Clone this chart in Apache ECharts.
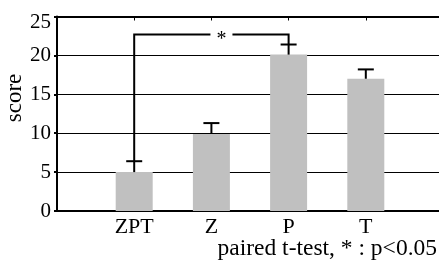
<!DOCTYPE html>
<html><head><meta charset="utf-8">
<script src="https://cdn.jsdelivr.net/npm/echarts@6/dist/echarts.min.js"></script>
<style>html,body{margin:0;padding:0;background:#fff;}#c{width:439px;height:266px;}</style>
</head><body><div id="c"></div>
<script>
const categories = ['ZPT', 'Z', 'P', 'T'];
const positions = [1, 2, 3, 4];
const means = [5.0, 9.9, 20.1, 17.0];
const errUpper = [6.4, 11.3, 21.4, 18.2];
const yTicks = [0, 5, 10, 15, 20, 25];
const bracketFrom = 1, bracketTo = 3, bracketY = 22.7, starX = 2.13;
const note = 'paired t-test, * : p<0.05';
const yName = 'score';

const FONT = '"Liberation Serif", "Times New Roman", serif';
const chart = echarts.init(document.getElementById('c'), null, {renderer: 'canvas'});

const barData = positions.map((p, i) => [p, means[i]]);
const errData = positions.map((p, i) => [p, means[i], errUpper[i]]);
const xMax = 4.948;
const yMax = yTicks[yTicks.length - 1];

chart.setOption({
  animation: false,
  grid: {left: 57, right: 0, top: 15, bottom: 55},
  xAxis: [{
    type: 'value', min: 0, max: xMax, interval: 1, position: 'bottom',
    axisLine: {show: true, onZero: false, lineStyle: {color: '#000', width: 2}},
    axisTick: {show: true, inside: true, length: 4, lineStyle: {color: '#000', width: 1}},
    splitLine: {show: false},
    axisLabel: {
      color: '#000', fontFamily: FONT, fontSize: 22, margin: 5, showMaxLabel: false,
      formatter: v => { const i = positions.indexOf(v); return i >= 0 ? categories[i] : ''; }
    }
  }, {
    type: 'value', min: 0, max: xMax, interval: 1, position: 'top',
    axisLine: {show: true, onZero: false, lineStyle: {color: '#000', width: 2}},
    axisTick: {show: true, inside: true, length: 4, lineStyle: {color: '#000', width: 1}},
    splitLine: {show: false}, axisLabel: {show: false}
  }],
  yAxis: [{
    type: 'value', min: yTicks[0], max: yMax, interval: 5,
    axisLine: {show: true, onZero: false, lineStyle: {color: '#000', width: 2}},
    axisTick: {show: true, inside: true, length: 4, lineStyle: {color: '#000', width: 1}},
    splitLine: {show: true, lineStyle: {color: '#000', width: 1}},
    axisLabel: {
      color: '#000', fontFamily: FONT, fontSize: 21, margin: 6, lineHeight: 12,
      formatter: v => v === yMax ? '\n' + v : String(v)
    }
  }, {
    type: 'value', position: 'right', min: yTicks[0], max: yMax, interval: 5,
    axisLine: {show: false},
    axisTick: {show: true, inside: true, length: 3, lineStyle: {color: '#000', width: 2}},
    splitLine: {show: false}, axisLabel: {show: false}
  }],
  graphic: [{
    type: 'text', x: 15, y: 98, rotation: Math.PI / 2,
    style: {text: yName, font: '23px ' + FONT, fill: '#000', align: 'center', verticalAlign: 'middle'}
  }, {
    type: 'text', x: 437, y: 248.5,
    style: {text: note, font: '23.5px ' + FONT, fill: '#000', align: 'right', verticalAlign: 'middle'}
  }],
  series: [{
    type: 'bar', data: barData, barWidth: 37,
    itemStyle: {color: '#c0c0c0'}, z: 2
  }, {
    type: 'custom', data: errData, z: 3,
    renderItem: (params, api) => {
      const x = api.value(0);
      const lo = api.coord([x, api.value(1)]);
      const hi = api.coord([x, api.value(2)]);
      return {type: 'group', children: [
        {type: 'line', shape: {x1: lo[0], y1: lo[1], x2: hi[0], y2: hi[1]}, style: {stroke: '#000', lineWidth: 2}},
        {type: 'line', shape: {x1: hi[0] - 8, y1: hi[1], x2: hi[0] + 8, y2: hi[1]}, style: {stroke: '#000', lineWidth: 2}}
      ]};
    }
  }, {
    type: 'custom', z: 4,
    data: [[bracketFrom, bracketTo, bracketY, errUpper[positions.indexOf(bracketFrom)], errUpper[positions.indexOf(bracketTo)], starX]],
    renderItem: (params, api) => {
      const a = api.coord([api.value(0), api.value(3)]);
      const b = api.coord([api.value(0), api.value(2)]);
      const c = api.coord([api.value(1), api.value(2)]);
      const d = api.coord([api.value(1), api.value(4)]);
      const s = api.coord([api.value(5), api.value(2)]);
      const gap = 11;
      const st = {stroke: '#000', lineWidth: 2};
      return {type: 'group', children: [
        {type: 'polyline', shape: {points: [a, b, [s[0] - gap, b[1]]]}, style: Object.assign({fill: null}, st)},
        {type: 'polyline', shape: {points: [[s[0] + gap, c[1]], c, d]}, style: Object.assign({fill: null}, st)},
        {type: 'text', x: s[0], y: s[1] + 5, style: {text: '*', font: '20px ' + FONT, fill: '#000', align: 'center', verticalAlign: 'middle'}}
      ]};
    }
  }]
});
</script></body></html>
